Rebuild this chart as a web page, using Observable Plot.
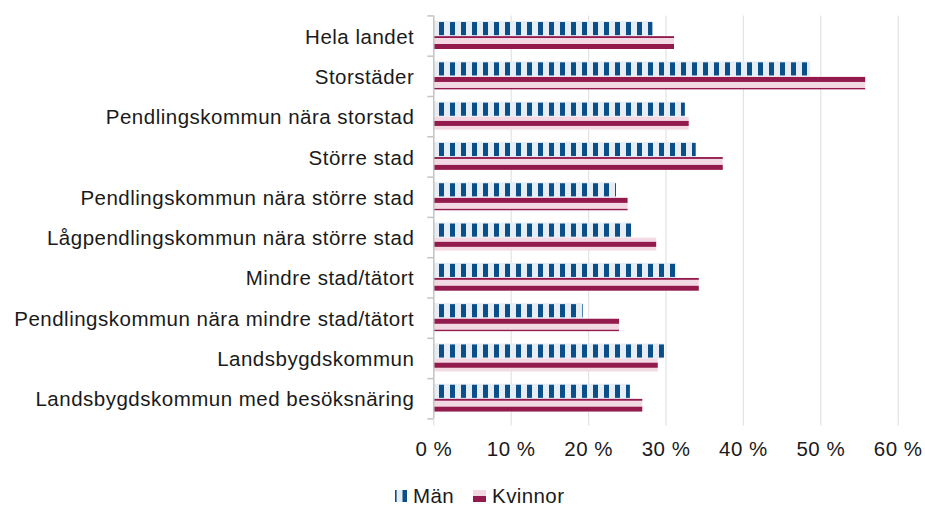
<!DOCTYPE html>
<html>
<head>
<meta charset="utf-8">
<script src="https://cdn.jsdelivr.net/npm/d3@7"></script>
<script src="https://cdn.jsdelivr.net/npm/@observablehq/plot@0.6"></script>
<style>
  html, body { margin: 0; padding: 0; background: #fff; }
  body { width: 925px; height: 506px; overflow: hidden; font-family: "Liberation Sans", Arial, sans-serif; color: #1a1a1a; }
  #legend { height: 36px; display: flex; align-items: center; padding-left: 395px; padding-top: 16px; box-sizing: border-box; font-size: 20.5px; line-height: 18px; letter-spacing: 0.4px; }
  #legend .item { display: flex; align-items: center; margin-right: 19px; }
  #legend svg { margin-right: 6px; }
</style>
</head>
<body>
<div id="chart"></div>
<div id="legend"></div>
<script>
const categories = [
  "Hela landet",
  "Storstäder",
  "Pendlingskommun nära storstad",
  "Större stad",
  "Pendlingskommun nära större stad",
  "Lågpendlingskommun nära större stad",
  "Mindre stad/tätort",
  "Pendlingskommun nära mindre stad/tätort",
  "Landsbygdskommun",
  "Landsbygdskommun med besöksnäring"
];
const man =     [28.3, 48.7, 32.5, 33.9, 23.6, 25.6, 31.4, 19.3, 29.8, 25.4];
const kvinnor = [31.1, 55.8, 33.0, 37.4, 25.1, 28.8, 34.3, 24.0, 29.0, 27.0];
const seriesNames = ["Män", "Kvinnor"];
const xTicks = [0, 10, 20, 30, 40, 50, 60];

const rows = categories.map((c, i) => ({category: c, i, man: man[i], kvinnor: kvinnor[i]}));

const BLUE = "#0b4f8a", BLUE_BG = "#e7edf5";
const RED = "#921a4d", RED_BG = "#f2d9e3";
const GRID = "#e3e3e3", AXIS = "#c4c4c4";

const chart = Plot.plot({
  width: 925,
  height: 470,
  marginLeft: 433.3,
  marginRight: 27.3,
  marginTop: 15.4,
  marginBottom: 51.6,
  style: {fontFamily: "Liberation Sans, Arial, sans-serif", fontSize: "20.5px", letterSpacing: "0.5px", color: "#1a1a1a", background: "#fff"},
  x: {domain: [0, 60], label: null},
  y: {domain: [0, categories.length], reverse: true, label: null},
  marks: [
    Plot.ruleX(xTicks.slice(1), {y1: 0, y2: categories.length, stroke: GRID, strokeWidth: 1.2}),
    Plot.axisX(xTicks, {tickSize: 7, tickPadding: 16, stroke: GRID, strokeWidth: 1.2, tickFormat: d => d + " %", label: null}),
    Plot.rect(rows, {x1: 0, x2: "man", y1: d => d.i + 0.14, y2: d => d.i + 0.515, fill: BLUE_BG}),
    Plot.rect(rows, {x1: 0, x2: "man", y1: d => d.i + 0.14, y2: d => d.i + 0.515, insetTop: 1, insetBottom: 1, fill: "url(#manStripe)"}),
    Plot.rect(rows, {x1: 0, x2: "kvinnor", y1: d => d.i + 0.515, y2: d => d.i + 0.835, fill: "url(#kvStripe)"}),
    Plot.ruleX([0], {y1: 0, y2: categories.length, stroke: AXIS, strokeWidth: 1.5}),
    Plot.axisY(d3.range(categories.length + 1), {tickSize: 6, tickFormat: () => "", stroke: AXIS, strokeWidth: 1.5, label: null}),
    Plot.axisY(categories.map((c, i) => i + 0.5), {tickSize: 0, tickPadding: 19.5, dy: 1, tickFormat: d => categories[Math.floor(d)], label: null})
  ]
});

// patterns anchored to the SVG's coordinates
const ns = "http://www.w3.org/2000/svg";
const defs = document.createElementNS(ns, "defs");
const xScale = chart.scale("x");
const yScale = chart.scale("y");
const step = Math.abs(yScale.apply(1) - yScale.apply(0));
const x0 = xScale.apply(0);
defs.innerHTML = `
  <pattern id="manStripe" patternUnits="userSpaceOnUse" x="${x0 + 5.7}" y="0" width="11" height="1000">
    <rect x="0" y="0" width="5" height="1000" fill="${BLUE}"/>
  </pattern>
  <pattern id="kvStripe" patternUnits="userSpaceOnUse" x="0" y="${yScale.apply(0) + 28.6}" width="1000" height="${step * 3 / 11}">
    <rect x="0" y="0" width="1000" height="${step * 3 / 11}" fill="${RED_BG}"/>
    <rect x="0" y="0" width="1000" height="5" fill="${RED}"/>
  </pattern>`;
chart.insertBefore(defs, chart.firstChild);
document.getElementById("chart").appendChild(chart);

// legend
const legend = document.getElementById("legend");
const swatches = [
  `<svg width="12" height="12"><rect width="12" height="12" fill="${BLUE_BG}"/><rect x="0" width="1.6" height="12" fill="${BLUE}"/><rect x="7.5" width="4.5" height="12" fill="${BLUE}"/></svg>`,
  `<svg width="13" height="12"><rect width="13" height="12" fill="${RED_BG}"/><rect y="6" width="13" height="6" fill="${RED}"/></svg>`
];
seriesNames.forEach((name, k) => {
  const item = document.createElement("span");
  item.className = "item";
  item.innerHTML = swatches[k] + `<span>${name}</span>`;
  legend.appendChild(item);
});
</script>
</body>
</html>
